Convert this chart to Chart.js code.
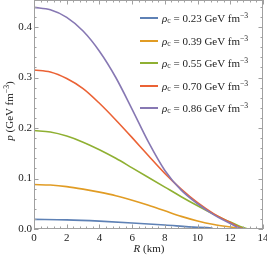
<!DOCTYPE html>
<html>
<head>
<meta charset="utf-8">
<script src="https://cdn.jsdelivr.net/npm/chart.js@4"></script>
<style>
  body { margin: 0; background: #fff; }
  #wrap { position: relative; width: 267px; height: 262px; font-family: "Liberation Serif", "DejaVu Serif", serif; color: #222; }
  #legend { position: absolute; left: 140px; top: 0; font-size: 11px; }
  .item { position: absolute; left: 0; display: flex; align-items: center; height: 20px; white-space: nowrap; line-height: 1; }
  .swatch { width: 18px; height: 2px; margin-right: 4px; }
  sub, sup { font-size: 70%; line-height: 0; position: relative; vertical-align: baseline; }
  sub { top: 0.25em; }
  sup { top: -0.5em; }
  .ytitle { position: absolute; left: -36px; top: 105px; width: 90px; height: 12px; line-height: 12px;
            text-align: center; font-size: 11px; transform: rotate(-90deg); white-space: nowrap; }
  .xtitle { position: absolute; left: 99px; top: 242px; width: 100px; text-align: center; font-size: 11px; }
</style>
</head>
<body>
<div id="wrap">
  <canvas id="chart" width="267" height="262"></canvas>
  <div id="legend"></div>
  <div class="ytitle"><i>p</i> (GeV fm<sup>−3</sup>)</div>
  <div class="xtitle"><i>R</i> (km)</div>
</div>
<script>
// central densities (GeV fm^-3)
const densities = ["0.23", "0.39", "0.55", "0.70", "0.86"];
const colors = ["#5e81b5", "#e19c24", "#8fb032", "#eb6235", "#8778b3"];

// radius (km) and pressure (GeV fm^-3)
const rBlue = [0, 2, 4, 6, 8, 10, 10.9, 10.92, 14];
const pBlue = [0.019, 0.018, 0.0155, 0.012, 0.008, 0.0035, 0.0015, 0, 0];

const rOrange = [0, 1, 2, 3, 4, 5, 6, 7, 8, 9, 10, 11, 12, 12.9, 14];
const pOrange = [0.088, 0.087, 0.084, 0.079, 0.073, 0.066, 0.057, 0.047, 0.036, 0.025, 0.016, 0.009, 0.004, 0, 0];

const rGreen = [0, 1, 2, 3, 4, 5, 6, 7, 8, 9, 10, 11, 12, 13.2, 14];
const pGreen = [0.195, 0.192, 0.184, 0.172, 0.157, 0.140, 0.121, 0.102, 0.083, 0.064, 0.046, 0.029, 0.014, 0, 0];

const rRed = [0, 1, 2, 3, 4, 5, 6, 7, 8, 9, 10, 11, 12, 12.9, 14];
const pRed = [0.315, 0.311, 0.298, 0.278, 0.249, 0.216, 0.181, 0.145, 0.110, 0.079, 0.052, 0.030, 0.013, 0, 0];

const rPurple = [0, 1, 2, 3, 4, 5, 6, 7, 8, 9, 10, 11, 12, 12.8, 14];
const pPurple = [0.439, 0.434, 0.419, 0.392, 0.352, 0.300, 0.237, 0.172, 0.116, 0.077, 0.050, 0.028, 0.011, 0, 0];

const radii = [rBlue, rOrange, rGreen, rRed, rPurple];
const pressures = [pBlue, pOrange, pGreen, pRed, pPurple];

const xTicks = [0, 2, 4, 6, 8, 10, 12, 14];
const yTicks = [0, 0.1, 0.2, 0.3, 0.4];

const tickFont = { family: "'Liberation Serif', serif", size: 11 };

// legend as html so the subscripts work, rows on whole pixels
const legend = document.querySelector("#legend");
densities.forEach((d, i) => {
  const item = document.createElement("div");
  item.classList.add("item");
  item.style.top = Math.round(8 + i * 22.6) + "px";
  const sw = document.createElement("div");
  sw.classList.add("swatch");
  sw.style.background = colors[i];
  const label = document.createElement("span");
  label.innerHTML = `<i>ρ</i><sub>c</sub> = ${d} GeV fm<sup>−3</sup>`;
  item.appendChild(sw);
  item.appendChild(label);
  legend.appendChild(item);
});

// mathematica style frame with inward ticks on all four sides
const frame = {
  id: "frame",
  afterDatasetsDraw(chart) {
    const { ctx, chartArea: a, scales } = chart;
    const x = scales.x;
    const y = scales.y;
    ctx.save();
    ctx.strokeStyle = "#a0a0a0";
    ctx.lineWidth = 1;
    ctx.strokeRect(a.left + 0.5, a.top + 0.5, a.right - a.left - 1, a.bottom - a.top - 1);
    ctx.beginPath();
    for (let k = 0; k <= 35; k++) {
      const v = k * 0.4;
      const len = k % 5 === 0 ? 4.5 : 2.5;
      const px = Math.round(x.getPixelForValue(v)) + 0.5;
      ctx.moveTo(px, a.bottom);
      ctx.lineTo(px, a.bottom - len);
      ctx.moveTo(px, a.top);
      ctx.lineTo(px, a.top + len);
    }
    for (let k = 0; k <= 22; k++) {
      const v = k * 0.02;
      const len = k % 5 === 0 ? 4.5 : 2.5;
      const py = Math.round(y.getPixelForValue(v)) + 0.5;
      ctx.moveTo(a.left, py);
      ctx.lineTo(a.left + len, py);
      ctx.moveTo(a.right, py);
      ctx.lineTo(a.right - len, py);
    }
    ctx.stroke();
    ctx.restore();
  },
};

const datasets = densities.map((d, i) => ({
  label: d,
  data: radii[i].map((r, j) => ({ x: r, y: pressures[i][j] })),
  borderColor: colors[i],
  borderWidth: 1.6,
  pointRadius: 0,
  fill: false,
  cubicInterpolationMode: "monotone",
  order: densities.length - i,
}));

new Chart(document.querySelector("#chart"), {
  type: "line",
  data: { datasets },
  options: {
    responsive: false,
    animation: false,
    layout: { padding: { top: 0, right: 4, left: 0, bottom: 0 } },
    plugins: { legend: { display: false }, tooltip: { enabled: false } },
    scales: {
      x: {
        type: "linear",
        min: 0,
        max: 14,
        grid: { display: false, drawTicks: false },
        border: { display: false },
        ticks: { font: tickFont, color: "#222", padding: 3, maxRotation: 0, autoSkip: false },
        afterBuildTicks: (s) => { s.ticks = xTicks.map((v) => ({ value: v })); },
        afterFit: (s) => { s.height = 33; s.paddingLeft = 0; s.paddingRight = 0; },
      },
      y: {
        min: 0,
        max: 0.4535,
        grid: { display: false, drawTicks: false },
        border: { display: false },
        ticks: { font: tickFont, color: "#222", padding: 2, callback: (v) => v.toFixed(1) },
        afterBuildTicks: (s) => { s.ticks = yTicks.map((v) => ({ value: v })); },
        afterFit: (s) => { s.width = 34; s.paddingTop = 0; s.paddingBottom = 0; },
      },
    },
  },
  plugins: [frame],
});
</script>
</body>
</html>
